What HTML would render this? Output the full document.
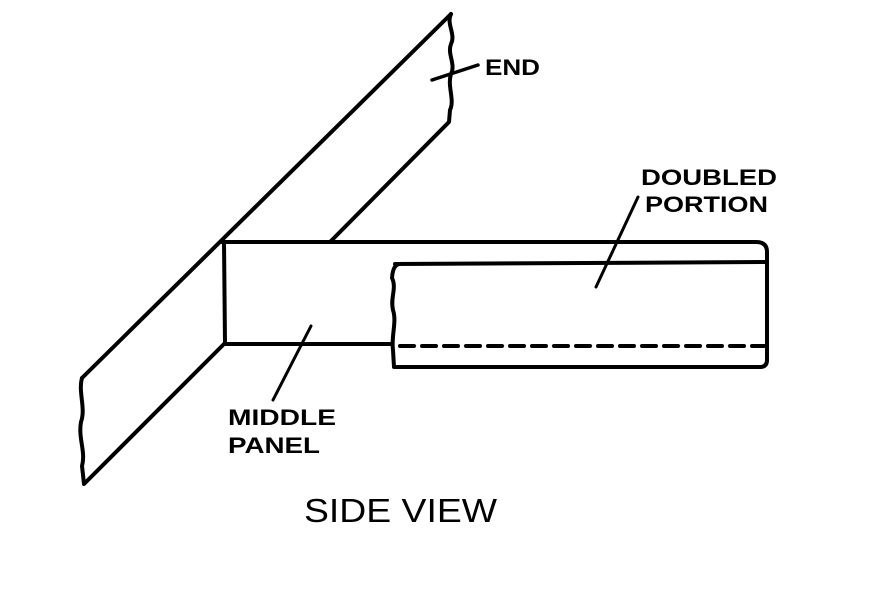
<!DOCTYPE html>
<html><head><style>
body{margin:0;background:#fff;}
svg{display:block}
text{font-family:"Liberation Sans",sans-serif;font-weight:bold;fill:#000}
</style></head><body>
<svg width="872" height="591" viewBox="0 0 872 591" xmlns="http://www.w3.org/2000/svg">
<g fill="none" stroke="#000" stroke-width="4" stroke-linecap="round" stroke-linejoin="round">
<path d="M82,378 L451,14"/>
<path d="M451,14 C446,24 456,34 451,44 C447,54 456,64 451,74 C447,86 455,100 450,110 L449,122 L330,242"/>
<path d="M82,378 C78,392 86,408 81,422 C78,438 86,452 82,466 L84,484 L224,344"/>
<path d="M222,242 L756,242 Q767,242 767,252 L767,262"/>
<path d="M224,242 L225,344 L392,344"/>
<path d="M395,264 L767,262 L767,360 Q767,367 760,367 L394,367 L393,350 C391,336 397,322 393,310 C390,298 397,288 392,278 Q393,264 400,264"/>
<path d="M400,346 L764,346" stroke-dasharray="14,8"/>
<path d="M432,80 L478,65" stroke-width="3.5"/>
<path d="M311,326 L273,400" stroke-width="3"/>
<path d="M596,287 L638,197" stroke-width="3"/>
</g>
<text x="485" y="75" font-size="22" textLength="55" lengthAdjust="spacingAndGlyphs">END</text>
<text x="641" y="185" font-size="22" textLength="136" lengthAdjust="spacingAndGlyphs">DOUBLED</text>
<text x="645" y="212" font-size="22" textLength="123" lengthAdjust="spacingAndGlyphs">PORTION</text>
<text x="228" y="425" font-size="22" textLength="108" lengthAdjust="spacingAndGlyphs">MIDDLE</text>
<text x="228" y="453" font-size="22" textLength="92" lengthAdjust="spacingAndGlyphs">PANEL</text>
<text x="304" y="522" font-size="33" style="font-weight:normal" textLength="193" lengthAdjust="spacingAndGlyphs">SIDE VIEW</text>
</svg>
</body></html>
